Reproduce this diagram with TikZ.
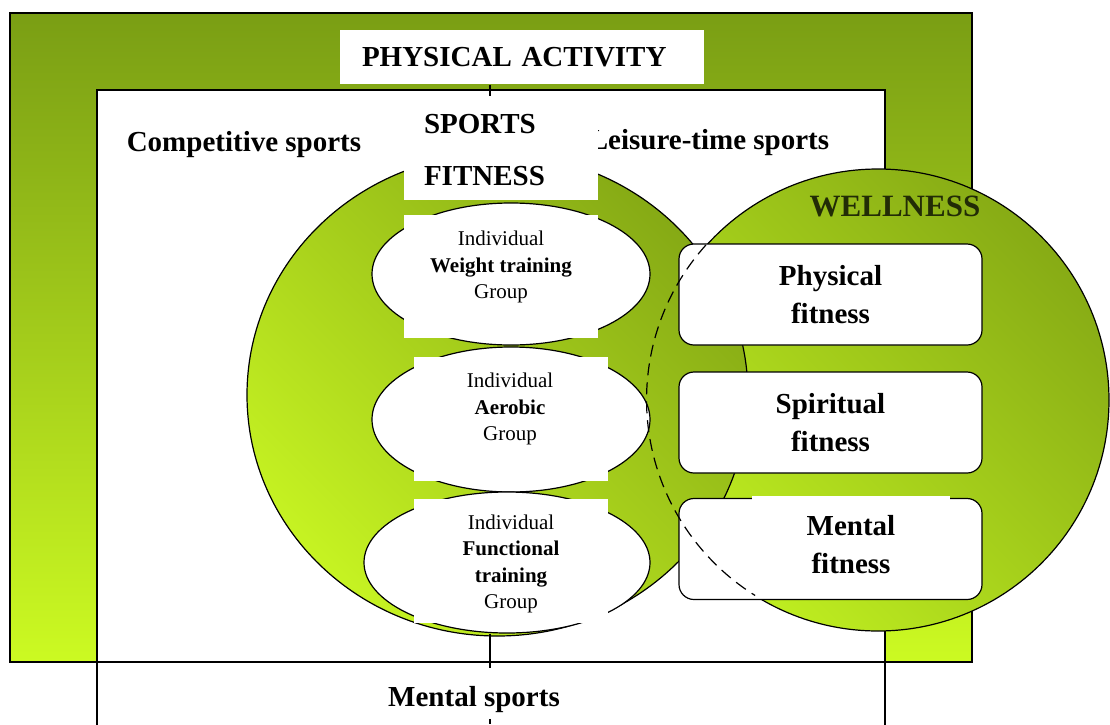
\documentclass[tikz,border=0pt]{standalone}
\usepackage{fontspec}
\setmainfont{Liberation Serif}
\usetikzlibrary{shapes.geometric}
\usetikzlibrary{positioning}

\definecolor{padark}{RGB}{122,158,20}
\definecolor{palight}{RGB}{204,250,34}
\definecolor{fitdark}{RGB}{134,170,21}
\definecolor{fitlight}{RGB}{198,243,34}
\definecolor{welldark}{RGB}{135,171,21}
\definecolor{welllight}{RGB}{191,238,32}
\definecolor{welltext}{RGB}{34,44,6}

\tikzset{
  head/.style={font=\fontsize{14.5}{19}\selectfont\bfseries, align=center, inner sep=0pt},
  sub/.style={font=\fontsize{10.5}{13.25}\selectfont, align=center, inner sep=0pt},
  patch/.style={fill=white, inner sep=0pt},
  oval/.style={ellipse, draw, fill=white, inner sep=0pt},
  fitbox/.style={rectangle, rounded corners=7.5pt, draw, fill=white,
    minimum width=151.5pt, minimum height=50.5pt, head},
}

\begin{document}
\begin{tikzpicture}[x=.5pt, y=-.5pt, line width=.6pt]
  \clip (0,0) rectangle (1110,724);

  % physical activity frame, sports area
  \draw[top color=padark, bottom color=palight] (10,13) rectangle (972,662);
  \draw[fill=white] (97,90) rectangle (885,760);
  \draw (10,662) -- (885,662);

  \node[head] (comp) at (244,145) {Competitive sports};
  \node[head] (leis) at (709,143) {Leisure-time sports};
  \node[head] (ment) at (474,700) {Mental sports};

  % wellness and fitness circles
  \node[circle, draw, minimum size=231pt, inner sep=0pt,
    top color=welldark, bottom color=welllight, shading angle=-45] (well) at (878,400) {};
  \node[ellipse, draw, minimum width=250.5pt, minimum height=241pt, inner sep=0pt,
    top color=fitdark, bottom color=fitlight, shading angle=-45] (fit) at (497.5,395) {};
  \node[head, text=welltext, font=\fontsize{15.5}{19}\selectfont\bfseries] (wtitle) at (895,206) {WELLNESS};

  % fitness ovals
  \node[oval, minimum width=139pt, minimum height=71pt] (wt) at (511,274) {};
  \node[oval, minimum width=139pt, minimum height=72.5pt] (ae) at (511,419.5) {};
  \node[oval, minimum width=143pt, minimum height=70.5pt] (ft) at (507,562.5) {};

  \node[patch, minimum width=97pt, minimum height=61.5pt] (wtp) at (501,276.5) {};
  \node[patch, minimum width=97pt, minimum height=62pt] (aep) at (511,419) {};
  \node[patch, minimum width=97pt, minimum height=62pt] (ftp) at (511,561) {};

  \node[sub] (wtt) at (501,267) {Individual\\\textbf{Weight training}\\Group};
  \node[sub] (aet) at (510,409) {Individual\\\textbf{Aerobic}\\Group};
  \node[sub] (ftt) at (511,564) {Individual\\\textbf{Functional}\\\textbf{training}\\Group};

  \node[patch, minimum width=97pt, minimum height=50pt, inner xsep=10pt, text width=77pt,
    align=left, font=\fontsize{14.5}{26}\selectfont\bfseries] (sf) at (501,150) {SPORTS\\FITNESS};
  \node[patch, head, minimum height=27pt, inner xsep=11pt, text width=160pt,
    align=left] (pa) at (522,57) {PHYSICAL ACTIVITY};

  % wellness boxes
  \node[fitbox] (phys) at (830.5,294.5) {Physical\\fitness};
  \node[fitbox] (spir) at (830.5,422.5) {Spiritual\\fitness};
  \node[fitbox] (mental) at (830.5,549) {};
  \node[patch, head, minimum width=99pt, minimum height=49pt] (mentt) at (851,545) {Mental\\fitness};

  \draw[dash pattern=on 6pt off 3.5pt] (well.138) arc[start angle=138, end angle=238, radius=115.5pt];

  % links
  \coordinate (top) at (490,96);
  \coordinate (ms) at (490,668);
  \coordinate (mb) at (490,724);
  \draw (pa.south -| top) -- (top);
  \draw (ft.south -| ms) -- (ms);
  \draw (ment.south -| mb) ++(0,5) -- (mb);
\end{tikzpicture}
\end{document}
